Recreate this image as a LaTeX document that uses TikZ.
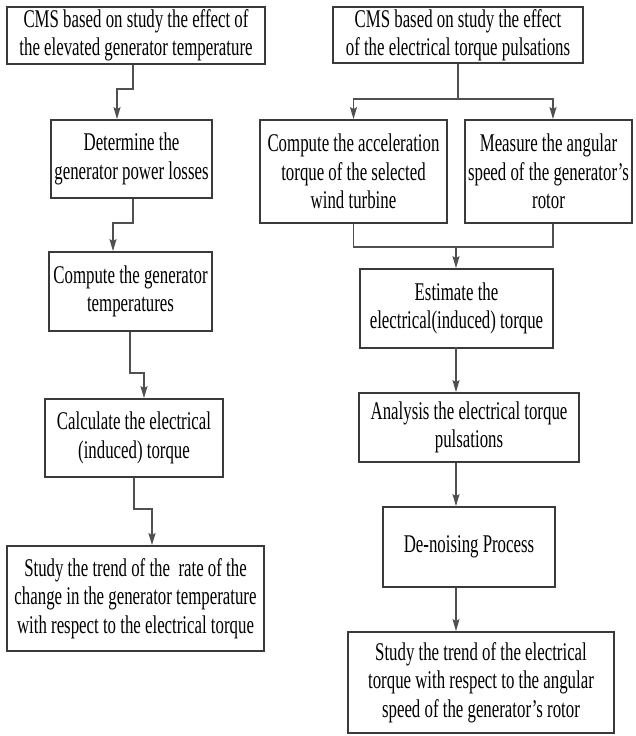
\documentclass[tikz,border=0pt]{standalone}
\usepackage{fontspec}
\setmainfont{Liberation Serif}[FakeStretch=0.66]
\usetikzlibrary{arrows.meta,calc}
\definecolor{boxline}{HTML}{3A3A3A}
\definecolor{arrline}{HTML}{505050}
\tikzset{
  stepbox/.style={draw=boxline, line width=1.8pt, fill=white, align=center,
    inner sep=0pt, font=\fontsize{25.5}{28.5}\selectfont, text=black},
  arr/.style={draw=arrline, line width=1.3pt,
    -{Stealth[length=12pt,width=7pt,inset=2pt]}},
  plain/.style={draw=arrline, line width=1.3pt},
}
\begin{document}
\begin{tikzpicture}[x=1pt,y=-1pt]
\useasboundingbox (0,0) rectangle (636,736);
\fill[white] (0,0) rectangle (636,736);

% left column
\node[stepbox, minimum width=258, minimum height=57] (L1) at (136,35.5)
  {CMS based on study the effect of\\the elevated generator temperature};
\node[stepbox, minimum width=161, minimum height=78] (L2) at (131.5,159)
  {Determine the\\generator power losses};
\node[stepbox, minimum width=163, minimum height=79] (L3) at (130.5,291.5)
  {Compute the generator\\temperatures};
\node[stepbox, minimum width=178, minimum height=78] (L4) at (134,438)
  {Calculate the electrical\\(induced) torque};
\node[stepbox, minimum width=257, minimum height=105] (L5) at (135.5,598.5)
  {Study the trend of the\ \ rate of the\\change in the generator temperature\\with respect to the electrical torque};

% right column
\node[stepbox, minimum width=250, minimum height=56] (R1) at (458,35)
  {CMS based on study the effect\\of the electrical torque pulsations};
\node[stepbox, minimum width=187, minimum height=103] (R2a) at (353.5,171.5)
  {Compute the acceleration\\torque of the selected\\wind turbine};
\node[stepbox, minimum width=167, minimum height=103] (R2b) at (548.5,171.5)
  {Measure the angular\\speed of the generator's\\rotor};
\node[stepbox, minimum width=193, minimum height=79] (R3) at (456.5,308.5)
  {Estimate the\\electrical(induced) torque};
\node[stepbox, minimum width=220, minimum height=69] (R4) at (469,427.5)
  {Analysis the electrical torque\\pulsations};
\node[stepbox, minimum width=172, minimum height=80] (R5) at (469,547)
  {De-noising Process};
\node[stepbox, minimum width=266, minimum height=101] (R6) at (481,682.5)
  {Study the trend of the electrical\\torque with respect to the angular\\speed of the generator's rotor};

% left connectors
\draw[arr] ([xshift=-3]L1.south) -- ++(0,24) -| ([xshift=-14.5]L2.north);
\draw[arr] ([xshift=1.5]L2.south) -- ++(0,24) -| ([xshift=-17.5]L3.north);
\draw[arr] ([xshift=-0.5]L3.south) -- ++(0,41) -| ([xshift=10]L4.north);
\draw[arr, line width=2.2pt] (L4.south) -- ++(0,31) -| ([xshift=16.5]L5.north);

% right connectors
\draw[arr] (R1.south) -- ++(0,35) -| (R2a.north);
\draw[arr] (R1.south) -- ++(0,35) -| ([xshift=4.5]R2b.north);
\draw[plain] (R2a.south) -- ++(0,23) -| ([xshift=4.5]R2b.south);
\coordinate (m) at (456,246);
\draw[arr] (m) -- (m |- R3.north);
\draw[arr] (R4.north -| m) ++(0,-45) -- (R4.north -| m);
\draw[arr] (R4.south -| m) -- (R5.north -| m);
\draw[arr] (R5.south -| m) -- (R6.north -| m);
\end{tikzpicture}
\end{document}
